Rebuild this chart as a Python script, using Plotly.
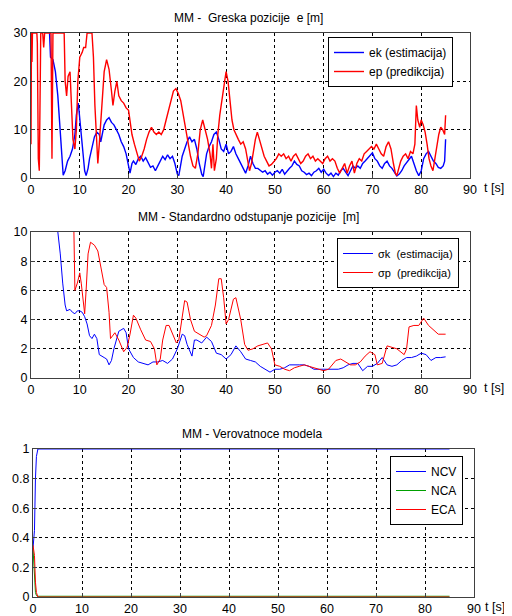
import plotly.graph_objects as go

# ---------------- Panel 1: position error ----------------
t_ek = [3.8, 4.0, 4.5, 5, 5.5, 6, 6.3, 6.6, 7, 7.5, 8, 8.5, 9, 9.3, 9.7, 10, 10.3, 10.7, 11, 11.3, 11.7, 12, 12.5, 13, 13.5, 14, 14.3, 14.7, 15, 15.5, 16, 16.5, 17, 17.5, 18, 18.5, 19, 19.5, 20, 20.3, 20.7, 21, 21.5, 22, 22.5, 23, 23.5, 24, 24.5, 25, 25.5, 26, 26.5, 27, 27.5, 28, 28.5, 29, 29.5, 30, 30.3, 30.7, 31, 31.5, 32, 32.5, 33, 33.5, 34, 34.5, 35, 35.3, 35.7, 36, 36.5, 37, 37.5, 38, 38.5, 39, 39.5, 40, 40.5, 41, 41.5, 42, 42.5, 43, 43.5, 44, 44.5, 45, 45.5, 46, 46.5, 47, 47.5, 48, 48.5, 49, 49.5, 50, 50.5, 51, 51.5, 52, 52.5, 53, 53.5, 54, 54.5, 55, 55.5, 56, 56.5, 57, 57.5, 58, 58.5, 59, 59.5, 60, 60.5, 61, 61.5, 62, 62.5, 63, 63.5, 64, 64.5, 65, 65.5, 66, 66.5, 67, 67.5, 68, 68.5, 69, 69.5, 70, 70.5, 71, 71.5, 72, 72.5, 73, 73.5, 74, 74.5, 75, 75.5, 76, 76.5, 77, 77.5, 78, 78.5, 79, 79.5, 80, 80.5, 81, 81.5, 82, 82.5, 83, 83.5, 84, 84.5, 84.8, 85]
ek = [30, 25, 24.5, 22, 17, 10, 4, 0.6, 1.5, 3.5, 4.5, 6, 9, 13, 15.5, 12, 9, 4, 1.5, 0.5, 2, 4, 6, 8.5, 9.5, 9, 7.5, 10, 11, 12, 12.5, 11.5, 11, 10, 9, 7.5, 6.5, 5, 2.5, 1, 3, 3.5, 2.8, 4, 4.5, 3.5, 4.2, 3, 2.2, 2.5, 1.5, 2.5, 3.5, 4.5, 3.8, 4.8, 4, 4.5, 3, 0.8, 0.5, 2.5, 4.5, 6, 7.5, 8.5, 7.5, 8, 6, 3, 0.8, 0.3, 3, 5, 6.5, 7.5, 9, 9.5, 8, 6, 5.5, 7, 5, 5.5, 6.5, 5, 4, 3, 2, 1, 2.5, 4.5, 3, 2, 2, 1.5, 1.2, 1.5, 0.8, 1.2, 0.6, 1.2, 1.5, 1, 1.8, 0.8, 1.5, 2, 2.5, 3.5, 2.8, 2.5, 1.5, 1.2, 0.7, 1, 0.5, 1.2, 1.5, 2, 1.2, 1.8, 1, 0.5, 1, 0.3, 1, 0.6, 1.5, 2, 1.2, 0.5, 1.5, 2.5, 2, 2.5, 2, 3, 3.5, 4, 4.5, 5.2, 4, 3.5, 2.5, 2, 3, 3.5, 2.5, 2, 1.2, 0.4, 0.8, 1.5, 2.5, 3.2, 4, 4.5, 3, 1.5, 0.5, 1.5, 4, 5, 5.5, 4.5, 3.5, 3, 2.2, 2, 2.5, 3.5, 8]

t_ep = [0, 0.1, 0.2, 0.3, 1.2, 1.3, 1.5, 1.7, 1.9, 2.0, 2.4, 2.6, 2.8, 4.1, 4.3, 4.5, 6.8, 7.0, 7.3, 7.6, 8.0, 8.3, 8.6, 9.0, 9.3, 9.6, 10, 10.5, 10.8, 11.2, 11.5, 12.5, 12.8, 13.1, 13.4, 13.7, 14.0, 14.3, 14.7, 15.0, 15.5, 16.0, 16.5, 16.8, 17.2, 17.6, 18.0, 18.5, 19.0, 19.5, 20.0, 20.3, 20.7, 21.2, 21.7, 22.2, 22.7, 23.2, 23.7, 24.2, 24.7, 25.2, 25.7, 26.2, 26.7, 27.2, 27.7, 28.2, 28.7, 29.2, 29.7, 30.2, 30.7, 31.2, 31.7, 32.2, 32.7, 33.2, 33.7, 34.2, 34.7, 35.2, 35.7, 36.2, 36.7, 37.0, 37.3, 37.6, 38.0, 38.3, 38.7, 39.2, 39.7, 40.0, 40.4, 40.8, 41.2, 41.6, 42.0, 42.5, 43.0, 43.5, 44.0, 44.4, 44.8, 45.2, 45.6, 46.0, 46.4, 46.8, 47.3, 47.8, 48.3, 48.8, 49.3, 49.8, 50.3, 50.8, 51.3, 51.8, 52.3, 52.8, 53.3, 53.8, 54.3, 54.8, 55.3, 55.8, 56.3, 56.8, 57.3, 57.8, 58.3, 58.8, 59.3, 59.8, 60.3, 60.8, 61.3, 61.8, 62.3, 62.8, 63.3, 63.8, 64.3, 64.8, 65.3, 65.8, 66.3, 66.8, 67.3, 67.8, 68.3, 68.8, 69.3, 69.8, 70.3, 70.8, 71.3, 71.8, 72.3, 72.8, 73.3, 73.8, 74.3, 74.7, 75.0, 75.4, 75.8, 76.3, 76.8, 77.3, 77.8, 78.3, 78.7, 79.0, 79.3, 79.7, 80.0, 80.4, 80.8, 81.2, 81.6, 82.0, 82.4, 82.8, 83.2, 83.6, 84.0, 84.4, 84.8, 85.0]
ep = [7, 30, 24, 30, 30, 28, 4, 1.5, 15, 30, 30, 27, 30, 30, 4, 30, 30, 20, 17, 21, 22, 15, 8, 6, 10, 20, 25, 26, 27, 27, 30, 30, 25, 15, 8, 3, 7, 12, 18, 22, 24.5, 22.5, 18, 15, 18, 20, 17, 16, 15.5, 14.5, 14, 12, 9, 7, 5, 3.5, 4.5, 6, 8, 9.5, 10.5, 9.5, 9, 9.5, 9, 10, 12, 14, 16, 18, 18.5, 17.5, 16, 13, 10, 7.5, 4.5, 2.5, 2, 5, 10, 12, 10, 8, 5, 2, 7, 1.5, 4, 9, 13, 17, 20, 22, 20, 16, 12, 10, 9, 8, 7, 7.5, 6, 4, 1.5, 3, 6, 8, 9.5, 8, 6, 4.5, 3.5, 2.5, 2.8, 3.5, 4, 5, 4.5, 5, 4, 4.5, 3.5, 4.5, 5, 4, 3, 3.5, 4.5, 5, 4, 4.5, 3.5, 4, 3.5, 3, 4, 4.5, 3.5, 4, 3.5, 2, 1, 2, 3, 1, 2.5, 3.5, 1, 3, 4, 3.5, 5, 5.5, 6, 6.5, 6, 7, 6, 5, 4.5, 6.5, 7.5, 6, 3, 1, 0.5, 2, 3.5, 4.5, 5, 4, 5.5, 5, 7, 15, 12, 10.5, 12, 11, 9.5, 7, 4, 2.5, 1.5, 4, 7, 9, 10.5, 10, 9, 13]

# ---------------- Panel 2: standard deviation ----------------
t_sk = [5.5, 6, 6.5, 7, 7.3, 8, 8.5, 9, 9.5, 10, 10.5, 11, 11.5, 12, 12.5, 13, 13.5, 14, 15, 15.5, 16, 16.5, 17, 18, 19, 19.5, 20, 21, 22, 23, 24, 25, 26, 27, 28, 29, 30, 31, 31.5, 32, 33, 33.5, 34, 35, 36, 37, 38, 39, 40, 41, 42, 43, 44, 45, 46, 47, 48, 49, 50, 51, 52, 53, 55, 56, 57, 58, 60, 61, 62, 63, 64, 65, 66, 67, 68, 69, 70, 71, 72, 73, 74, 75, 76, 77, 78, 79, 80, 81, 82, 83, 84, 85]
sk = [10, 8.5, 6.5, 5, 4.6, 4.7, 4.5, 4.4, 4.6, 4.6, 4.5, 4.2, 3.7, 2.9, 2.7, 3.0, 2.7, 1.6, 1.4, 1.3, 0.9, 1.2, 2.0, 3.2, 3.4, 3.1, 2.0, 1.4, 1.1, 1.0, 0.9, 1.1, 1.1, 1.2, 1.0, 1.3, 2.0, 3.0, 2.9, 2.3, 1.5, 2.6, 2.6, 2.4, 2.8, 2.5, 1.7, 1.6, 1.3, 1.6, 2.2, 1.8, 1.3, 1.2, 1.1, 0.8, 0.6, 0.4, 0.6, 0.6, 0.7, 0.9, 0.9, 0.9, 0.8, 0.6, 0.6, 0.6, 0.6, 0.6, 0.7, 0.9, 1.0, 1.0, 0.5, 0.8, 0.8, 1.0, 1.4, 0.9, 0.8, 0.9, 1.2, 1.4, 1.4, 1.5, 1.7, 1.6, 1.2, 1.4, 1.4, 1.45]

t_sp = [8.8, 9, 9.5, 10, 10.3, 11, 11.3, 11.7, 12.2, 13, 13.7, 14.3, 15, 15.5, 16, 16.3, 17.2, 18, 19, 19.7, 20.3, 21, 21.5, 22.5, 23.5, 24.5, 25.3, 25.8, 26.5, 27, 27.7, 28.3, 29, 29.8, 30.3, 31, 31.5, 32, 32.7, 33.5, 34.5, 35.5, 36, 37, 37.8, 38.5, 39, 39.5, 40, 40.5, 41.5, 42, 43, 43.8, 44.5, 45.5, 46.5, 47.5, 48.5, 49.3, 50, 51, 52, 53, 54, 55, 56, 57, 58, 59, 60, 61, 62.5, 63.5, 64.5, 65.5, 66.5, 67.5, 68.5, 69.5, 70.5, 71, 72, 73, 74, 75, 76.5, 77, 77.5, 78.5, 79.5, 80.5, 81.5, 82.5, 83.5, 85]
sp = [10, 6, 6.5, 7.2, 6.5, 4.4, 6, 8.5, 9.3, 9.1, 8.7, 7.5, 6.4, 6.2, 4.5, 2.7, 3.1, 2.6, 1.8, 2.1, 3.0, 4.3, 4.1, 3.3, 2.6, 2.5, 2.0, 0.9, 1.3, 2.6, 3.6, 3.6, 3.0, 2.4, 2.6, 4.0, 5.3, 5.2, 4.0, 3.2, 3.0, 2.8, 2.9, 3.6, 5.0, 6.8, 6.8, 5.5, 3.7, 4.0, 5.4, 5.5, 4.0, 2.3, 1.9, 2.0, 2.2, 2.3, 2.4, 2.0, 0.9, 0.8, 0.6, 0.5, 0.7, 0.8, 0.9, 0.8, 0.7, 0.6, 0.5, 0.6, 1.2, 1.3, 1.1, 0.9, 0.9, 1.1, 1.5, 1.8, 1.6, 0.9, 1.0, 2.2, 2.1, 2.0, 1.6, 2.0, 3.5, 3.6, 3.6, 4.1, 3.6, 3.3, 3.0, 3.0]

# ---------------- Panel 3: model probabilities ----------------
t_mu = [0, 0.3, 0.5, 0.7, 1.0, 85]
ncv = [0.33, 0.45, 0.8, 0.95, 1.0, 1.0]
nca = [0.33, 0.1, 0.03, 0.01, 0.005, 0.005]
eca = [0.35, 0.28, 0.1, 0.03, 0.0, 0.0]

x_ticks = [0, 10, 20, 30, 40, 50, 60, 70, 80, 90]

# the page body adds an 8 px margin, so the figure is drawn from (8, 8)
OFF = 8
W, H = 512 - OFF, 616 - OFF
FONT = "Liberation Sans, Arial, sans-serif"
BLUE = "#0000ff"
RED = "#ff0000"
GREEN = "#00a000"


def px_x(p):
    return (p - OFF) / W


def px_y(p):
    return 1 - (p - OFF) / H


fig = go.Figure()

# panel 1
fig.add_trace(go.Scatter(x=t_ek, y=ek, mode="lines", line=dict(color=BLUE, width=1.4),
                         name="ek (estimacija)", xaxis="x", yaxis="y", legend="legend"))
fig.add_trace(go.Scatter(x=t_ep, y=ep, mode="lines", line=dict(color=RED, width=1.4),
                         name="ep (predikcija)", xaxis="x", yaxis="y", legend="legend"))
# panel 2
fig.add_trace(go.Scatter(x=t_sk, y=sk, mode="lines", line=dict(color=BLUE, width=1),
                         name="σk  (estimacija)", xaxis="x2", yaxis="y2", legend="legend2"))
fig.add_trace(go.Scatter(x=t_sp, y=sp, mode="lines", line=dict(color=RED, width=1),
                         name="σp  (predikcija)", xaxis="x2", yaxis="y2", legend="legend2"))
# panel 3
fig.add_trace(go.Scatter(x=t_mu, y=ncv, mode="lines", line=dict(color=BLUE, width=1),
                         name="NCV", xaxis="x3", yaxis="y3", legend="legend3"))
fig.add_trace(go.Scatter(x=t_mu, y=nca, mode="lines", line=dict(color=GREEN, width=1),
                         name="NCA", xaxis="x3", yaxis="y3", legend="legend3"))
fig.add_trace(go.Scatter(x=t_mu, y=eca, mode="lines", line=dict(color=RED, width=1),
                         name="ECA", xaxis="x3", yaxis="y3", legend="legend3"))

axis_common = dict(
    showgrid=True, gridcolor="#000000", gridwidth=1, griddash="3px,3px",
    showline=True, mirror=True, linecolor="#404040", linewidth=1,
    ticks="inside", ticklen=4, tickcolor="#404040",
    zeroline=False, tickfont=dict(family=FONT, size=12.5, color="#000"),
    fixedrange=True, automargin=False,
)

# pixel boxes of the three axes (page coordinates)
boxes = [
    (31, 470, 33, 178),
    (31, 470, 232, 378),
    (33, 474, 449, 597),
]
yranges = [(0, 30, 10), (0, 10, 2), (0, 1, 0.2)]
tlabel_dx = [12, 12, 9]

layout = dict(
    width=W, height=H,
    margin=dict(l=0, r=0, t=0, b=0, autoexpand=False),
    paper_bgcolor="white", plot_bgcolor="white",
    font=dict(family=FONT, size=12, color="#000"),
    annotations=[],
)
for i, ((x0, x1, y0, y1), (ymin, ymax, dt)) in enumerate(zip(boxes, yranges)):
    sfx = "" if i == 0 else str(i + 1)
    layout["xaxis" + sfx] = dict(axis_common, domain=[px_x(x0), px_x(x1)], range=[0, 90],
                                 tickvals=x_ticks, anchor="y" + sfx)
    yt = dict(axis_common, domain=[px_y(y1), px_y(y0)], range=[ymin, ymax], dtick=dt,
              anchor="x" + sfx)
    layout["yaxis" + sfx] = yt
    layout["annotations"].append(dict(
        text="t [s]", x=px_x(x1 + tlabel_dx[i]), y=px_y(y1 + 10), xref="paper", yref="paper",
        xanchor="left", yanchor="middle", showarrow=False,
        font=dict(family=FONT, size=12.5, color="#000")))

titles = ["MM -  Greska pozicije  e [m]", "MM - Standardno odstupanje pozicije  [m]",
          "MM - Verovatnoce modela"]
title_y = [18, 217, 434]
for (x0, x1, y0, y1), t, ty in zip(boxes, titles, title_y):
    layout["annotations"].append(dict(
        text=t, x=px_x((x0 + x1) / 2 - 2), y=px_y(ty), xref="paper", yref="paper",
        xanchor="center", yanchor="middle", showarrow=False,
        font=dict(family=FONT, size=12, color="#000")))

leg_common = dict(bgcolor="white", bordercolor="#000", borderwidth=1,
                  font=dict(family=FONT, size=12, color="#000"),
                  xanchor="left", yanchor="top", tracegroupgap=0)
layout["legend"] = dict(leg_common, x=px_x(328), y=px_y(37))
layout["legend2"] = dict(leg_common, x=px_x(337), y=px_y(238),
                         font=dict(family=FONT, size=11, color="#000"))
layout["legend3"] = dict(leg_common, x=px_x(390), y=px_y(456),
                         font=dict(family=FONT, size=12, color="#000"))

fig.update_layout(**layout)
fig.write_html("out.html")
